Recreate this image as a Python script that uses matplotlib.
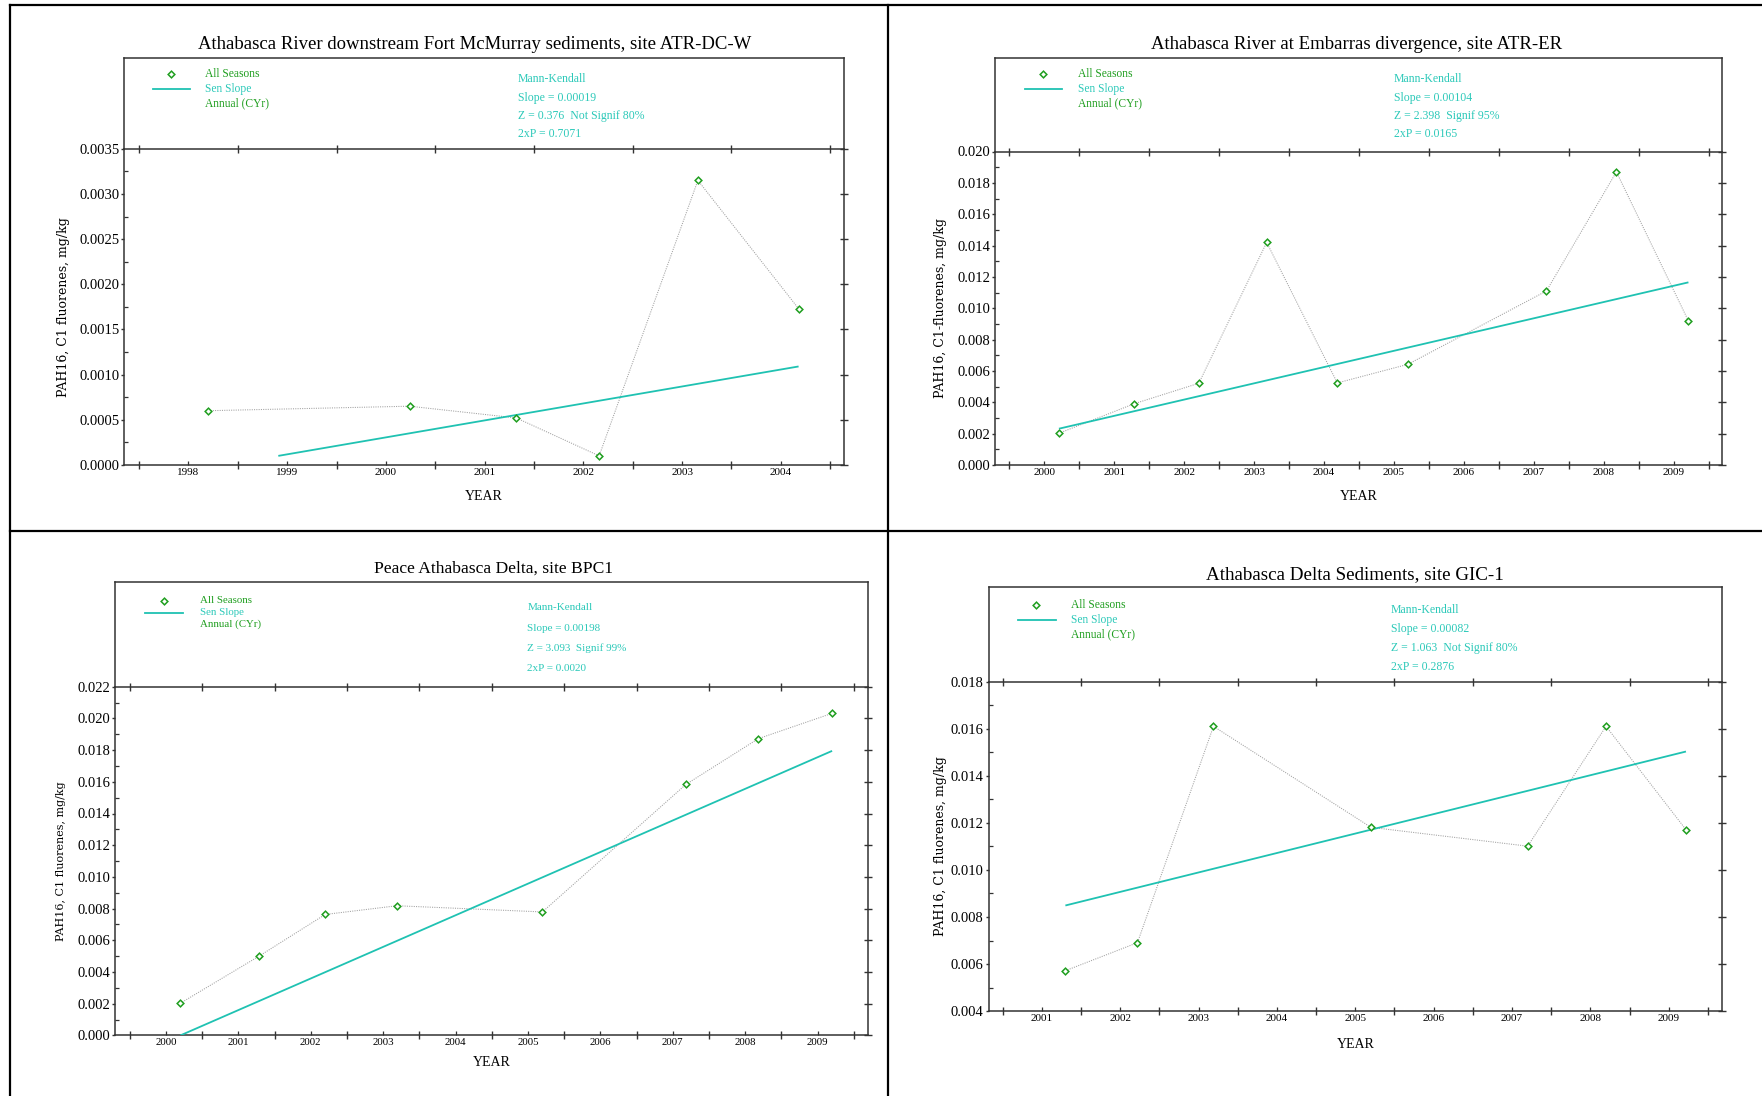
import matplotlib
matplotlib.use('Agg')
import matplotlib.pyplot as plt
from matplotlib.lines import Line2D
import numpy as np

plt.rcParams['font.family'] = ['Liberation Serif', 'DejaVu Serif']

# ---- data (decimal years, mg/kg) ----
p1_years = [1998.70, 2000.74, 2001.82, 2002.66, 2003.66, 2004.68]
p1_vals = [0.00060, 0.00065, 0.00052, 0.00010, 0.00315, 0.00173]
p1_sen_x = [1999.41, 2004.68]
p1_sen_y = [0.00010, 0.00109]
p1_mk = ['Mann-Kendall', 'Slope = 0.00019', 'Z = 0.376  Not Signif 80%', '2xP = 0.7071']

p2_years = [2000.71, 2001.79, 2002.71, 2003.68, 2004.69, 2005.70, 2007.68, 2008.68, 2009.71]
p2_vals = [0.00202, 0.00391, 0.00521, 0.0142, 0.00523, 0.00642, 0.0111, 0.0187, 0.00919]
p2_sen_x = [2000.71, 2009.71]
p2_sen_y = [0.00231, 0.01165]
p2_mk = ['Mann-Kendall', 'Slope = 0.00104', 'Z = 2.398  Signif 95%', '2xP = 0.0165']

p3_years = [2000.70, 2001.79, 2002.70, 2003.69, 2005.70, 2007.68, 2008.68, 2009.70]
p3_vals = [0.00203, 0.00501, 0.00763, 0.00818, 0.00779, 0.01583, 0.01872, 0.02032]
p3_sen_x = [2000.70, 2009.70]
p3_sen_y = [0.0, 0.01795]
p3_mk = ['Mann-Kendall', 'Slope = 0.00198', 'Z = 3.093  Signif 99%', '2xP = 0.0020']

p4_years = [2001.80, 2002.72, 2003.69, 2005.70, 2007.70, 2008.70, 2009.72]
p4_vals = [0.00572, 0.00691, 0.0161, 0.01181, 0.01101, 0.0161, 0.01171]
p4_sen_x = [2001.80, 2009.72]
p4_sen_y = [0.00849, 0.01503]
p4_mk = ['Mann-Kendall', 'Slope = 0.00082', 'Z = 1.063  Not Signif 80%', '2xP = 0.2876']

titles = ['Athabasca River downstream Fort McMurray sediments, site ATR-DC-W',
          'Athabasca River at Embarras divergence, site ATR-ER',
          'Peace Athabasca Delta, site BPC1',
          'Athabasca Delta Sediments, site GIC-1']
ylabels = ['PAH16, C1 fluorenes, mg/kg', 'PAH16, C1-fluorenes, mg/kg',
           'PAH16, C1 fluorenes, mg/kg', 'PAH16, C1 fluorenes, mg/kg']
legend_labels = ['All Seasons', 'Sen Slope', 'Annual (CYr)']

GREEN = '#1f9e1f'
TURQ = '#2cc9b9'
SEN = '#1fc2b2'
SPINE = '#333333'

W, H = 1762, 1096
fig = plt.figure(figsize=(W / 100, H / 100), dpi=100)


def fx(x):
    return x / W


def fy(y):
    return 1 - y / H


def draw_panel(lay, title, ylabel, years, vals, sen_x, sen_y, mk, yr_first, yr_last,
               ylim, ystep, yfmt):
    x0, x1, ftop, ptop, pbot = lay['box']
    ax = fig.add_axes([fx(x0), fy(pbot), (x1 - x0) / W, (pbot - ptop) / H])
    ax.set_xlim(yr_first - lay['xpad'][0], yr_last + lay['xpad'][1])
    ax.set_ylim(*ylim)

    ax.plot(years, vals, color='#a0a0a0', lw=0.75, ls=(0, (1, 1.2)), zorder=2)
    ax.plot(sen_x, sen_y, color=SEN, lw=1.3, zorder=3, solid_capstyle='butt')
    ax.plot(years, vals, ls='none', marker='D', ms=3.4, mfc='white', mec=GREEN,
            mew=1.1, zorder=4)

    bounds = np.arange(yr_first, yr_last + 1)
    mids = np.arange(yr_first, yr_last) + 0.5
    ax.set_xticks(bounds)
    ax.set_xticks(mids, minor=True)
    ax.set_xticklabels([str(y) for y in range(yr_first, yr_last)], minor=True)
    yt = np.arange(ylim[0], ylim[1] + ystep / 2, ystep)
    ax.set_yticks(yt)
    ax.set_yticks(yt[:-1] + ystep / 2, minor=True)
    ax.set_yticklabels([yfmt % v for v in yt])

    ax.tick_params(axis='x', which='major', direction='inout', length=6, width=1,
                   top=True, bottom=True, labelbottom=False, color=SPINE)
    ax.tick_params(axis='x', which='minor', direction='in', length=3, width=0.9,
                   top=False, bottom=True, labelsize=lay['xts'], pad=2, color=SPINE)
    ax.tick_params(axis='y', which='major', direction='out', length=2.5, width=1,
                   right=False, labelsize=10.5, pad=1, color=SPINE)
    ax.tick_params(axis='y', which='minor', direction='in', length=3, width=0.9,
                   right=False, color=SPINE)
    for s in ax.spines.values():
        s.set_linewidth(1.1)
        s.set_color(SPINE)

    axr = ax.twinx()
    axr.set_ylim(*ylim)
    axr.set_yticks(yt)
    axr.tick_params(axis='y', direction='inout', length=6, width=1, labelright=False,
                    color=SPINE)
    for s in axr.spines.values():
        s.set_visible(False)

    # header box holding legend and Mann-Kendall stats
    axh = fig.add_axes([fx(x0), fy(ptop), (x1 - x0) / W, (ptop - ftop) / H])
    axh.set_xlim(x0, x1)
    axh.set_ylim(ptop, ftop)
    axh.set_xticks([])
    axh.set_yticks([])
    axh.patch.set_alpha(0)
    axh.spines['bottom'].set_visible(False)
    for s in ['top', 'left', 'right']:
        axh.spines[s].set_linewidth(1.1)
        axh.spines[s].set_color(SPINE)

    mx, tx, rows, lx = lay['leg']
    fs = lay['lfs']
    axh.plot([mx], [rows[0]], ls='none', marker='D', ms=3.4, mfc='white', mec=GREEN,
             mew=1.1)
    axh.plot(lx, [rows[1], rows[1]], color=SEN, lw=1.3)
    for lab, r, c in zip(legend_labels, rows, [GREEN, TURQ, GREEN]):
        axh.text(tx, r, lab, color=c, fontsize=fs, va='center', ha='left')
    kx, krows = lay['mk']
    for line, r in zip(mk, krows):
        axh.text(kx, r, line, color=TURQ, fontsize=lay['mfs'], va='center', ha='left')

    fig.text(fx(lay['tx']), fy(lay['ty']), title, fontsize=lay['tfs'],
             ha='center', va='center')
    fig.text(fx((x0 + x1) / 2), fy(lay['yeary']), 'YEAR', fontsize=10,
             ha='center', va='center')
    fig.text(fx(lay['ylx']), fy((ptop + pbot) / 2), ylabel, rotation=90,
             fontsize=lay['ylfs'], family='DejaVu Serif', ha='center', va='center')


layouts = [
    dict(box=(124.3, 844, 57.5, 148.8, 464.9), xpad=(0.15, 0.14), xts=8,
         leg=(171.4, 205.4, (74, 89, 103), (153, 190)), lfs=8.3,
         mk=(518, (79, 98, 116, 134)), mfs=8.5, tx=475, ty=44.8, tfs=13.5, yeary=497,
         ylx=63.6, ylfs=9),
    dict(box=(995.3, 1722, 57.5, 151.5, 464.9), xpad=(0.20, 0.19), xts=8,
         leg=(1043, 1078, (74, 89, 103), (1025, 1062)), lfs=8.3,
         mk=(1393.5, (79, 98, 116, 134)), mfs=8.5, tx=1357, ty=44.8, tfs=13.5,
         yeary=497, ylx=940.7, ylfs=9),
    dict(box=(115.2, 868.3, 581.6, 686.7, 1035.4), xpad=(0.20, 0.20), xts=7.8,
         leg=(164, 199.8, (600.8, 612.7, 624.6), (145, 183)), lfs=7.8,
         mk=(527.2, (607.3, 628.2, 648.4, 668.3)), mfs=8, tx=493.7, ty=568.6,
         tfs=12.6, yeary=1062.5, ylx=60.7, ylfs=8),
    dict(box=(988.6, 1722, 587, 681.6, 1011.2), xpad=(0.18, 0.18), xts=8,
         leg=(1036.4, 1071.2, (604.7, 619.9, 634.7), (1017.8, 1055.5)), lfs=8.3,
         mk=(1390.7, (609.8, 628.6, 647.7, 666.5)), mfs=8.5, tx=1355, ty=575,
         tfs=13.7, yeary=1044.4, ylx=940.7, ylfs=9),
]

draw_panel(layouts[0], titles[0], ylabels[0], p1_years, p1_vals, p1_sen_x, p1_sen_y,
           p1_mk, 1998, 2005, (0, 0.0035), 0.0005, '%.4f')
draw_panel(layouts[1], titles[1], ylabels[1], p2_years, p2_vals, p2_sen_x, p2_sen_y,
           p2_mk, 2000, 2010, (0, 0.020), 0.002, '%.3f')
draw_panel(layouts[2], titles[2], ylabels[2], p3_years, p3_vals, p3_sen_x, p3_sen_y,
           p3_mk, 2000, 2010, (0, 0.022), 0.002, '%.3f')
draw_panel(layouts[3], titles[3], ylabels[3], p4_years, p4_vals, p4_sen_x, p4_sen_y,
           p4_mk, 2001, 2010, (0.004, 0.018), 0.002, '%.3f')

# page grid lines around the four panels
for xs, ys in [((9.6, W), (5, 5)), ((9.6, 9.6), (5, H)), ((888, 888), (5, H)),
               ((9.6, W), (531, 531))]:
    fig.add_artist(Line2D([fx(v) for v in xs], [fy(v) for v in ys], color='black',
                          lw=1.6, transform=fig.transFigure))

fig.savefig('out.png', dpi=100, facecolor='white')
